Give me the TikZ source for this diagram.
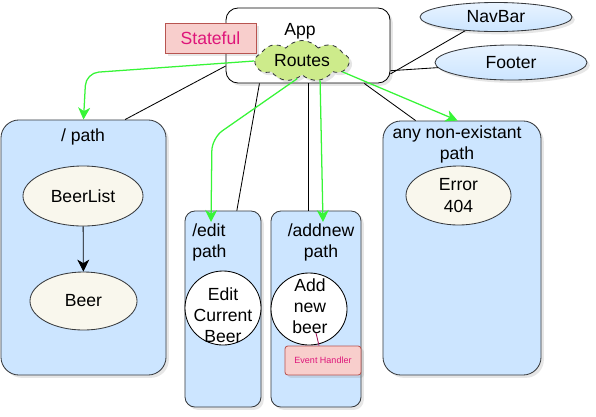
\documentclass[tikz,border=0pt]{standalone}
\usepackage{fontspec}
\setmainfont{Liberation Sans}
\usetikzlibrary{arrows.meta, positioning, shapes.geometric, shapes.symbols, shadows}
\definecolor{routeblue}{RGB}{204, 229, 255}
\definecolor{routedark}{RGB}{54, 57, 61}
\definecolor{routecream}{RGB}{249, 247, 237}
\definecolor{routelime}{RGB}{205, 235, 139}
\definecolor{routegreen}{RGB}{55, 245, 55}
\definecolor{statepink}{RGB}{248, 206, 204}
\definecolor{statered}{RGB}{184, 84, 80}
\definecolor{statetext}{RGB}{222, 22, 122}
\definecolor{pinline}{RGB}{160, 20, 90}

\begin{document}
\begin{tikzpicture}[x=0.025cm, y=-0.025cm,
        txt/.style={font=\fontsize{12.5}{15}\selectfont, align=center, inner sep=0pt},
        soft/.style={drop shadow={shadow xshift=2pt, shadow yshift=-2pt, opacity=0.2}},
        pathbox/.style={rectangle, draw=routedark, fill=routeblue, semithick, soft},
        comp/.style={ellipse, draw=routedark, fill=routecream, semithick, txt},
        circ/.style={ellipse, draw=black, fill=white, semithick},
        menu/.style={ellipse, draw=routedark, top color=routeblue!45, bottom color=routeblue, semithick, minimum width=3.8cm, soft, txt},
        note/.style={rectangle, draw=statered, fill=statepink, semithick, text=statetext, soft},
        link/.style={semithick},
        flow/.style={-{Stealth[length=8.5pt, width=8.5pt, inset=2.5pt]}, routegreen, line width=0.9pt},
        arr/.style={-{Stealth[length=8.5pt, width=8.5pt, inset=2.5pt]}, semithick}
    ]
        \useasboundingbox (0,0) rectangle (596,416);

        % App
        \node[rectangle, draw=black, fill=white, semithick, rounded corners=0.3cm, soft, minimum width=4.1cm, minimum height=1.875cm] (app) at (308,45.5) {};
        \node[txt] (apptitle) at (300,31) {App};
        \node[note, txt, minimum width=2.275cm, minimum height=0.75cm] (stateful) at (210.5,38) {Stateful};
        \node[cloud, cloud puffs=9, cloud puff arc=100, aspect=2.6, draw=routedark, dashed, fill=routelime, semithick, soft, inner sep=0pt, minimum width=2.35cm, minimum height=0.95cm, txt] (routes) at (302,61) {Routes};

        % NavBar, Footer
        \node[menu, minimum height=0.725cm] (navbar) at (496,17) {NavBar};
        \node[menu, minimum height=0.875cm] (footer) at (511,62.5) {Footer};

        % / path
        \node[pathbox, rounded corners=0.45cm, minimum width=4.125cm, minimum height=6.375cm] (root) at (83.5,247.5) {};
        \node[txt] (roottitle) at (83,137) {/ path};
        \node[comp, minimum width=3cm, minimum height=1.5cm] (beerlist) at (83,196) {BeerList};
        \node[comp, minimum width=2.675cm, minimum height=1.45cm] (beer) at (83.5,301) {Beer};
        \draw[arr] (beerlist) -- (beer);

        % /edit path
        \node[pathbox, rounded corners=0.25cm, minimum width=1.9cm, minimum height=4.9cm] (edit) at (223,309) {};
        \node[txt, align=left, anchor=west] (edittitle) at (192,242) {/edit\\path};
        \node[circ, minimum width=1.9cm, minimum height=1.85cm] (editbeer) at (223,308) {};
        \node[txt] (editlabel) at (223,315) {Edit\\Current\\Beer};

        % /addnew path
        \node[pathbox, rounded corners=0.25cm, minimum width=2.25cm, minimum height=4.9cm] (addnew) at (316,309) {};
        \node[txt] (addtitle) at (321,242) {/addnew\\path};
        \node[circ, minimum width=1.9cm, minimum height=1.8cm] (addbeer) at (309,309) {};
        \node[txt] (addlabel) at (310,306) {Add\\new\\beer};
        \node[note, font=\fontsize{6.4}{8}\selectfont, rounded corners=2pt, minimum width=1.9cm, minimum height=0.725cm] (handler) at (323,360.5) {Event Handler};
        \coordinate (handlerpin) at (316,333);
        \draw[pinline, semithick] (handlerpin) -- (handler.105);

        % any non-existant path
        \node[pathbox, rounded corners=0.45cm, minimum width=3.95cm, minimum height=6.35cm] (notfound) at (462,248) {};
        \node[txt] (notfoundtitle) at (457,144.5) {any non-existant\\path};
        \node[comp, minimum width=2.625cm, minimum height=1.475cm] (error) at (458.5,195.5) {Error\\404};

        % tree links
        \draw[link] (app.194) -- (root.72);
        \draw[link] (app.218) -- (edit.82);
        \draw[link] (app.south) -- (app.south |- addnew.north);
        \draw[link] (app.-34) -- (notfound.110);
        \draw[link] (app.-19) -- (navbar.204);
        \draw[link] (app.-17) -- (footer.184);

        % routing
        \coordinate (rootbend) at (86,73);
        \coordinate (editbend) at (212,138);
        \coordinate (edittip) at (211,222);
        \coordinate (addtip) at (323,222);
        \draw[flow, rounded corners=9pt] (routes.180) -- (rootbend) -- (root.north);
        \draw[flow, rounded corners=9pt] (routes.255) -- (editbend) -- (edittip);
        \draw[flow] (routes.-47) -- (addtip);
        \draw[flow] (routes.-15) -- (notfound.92);
    \end{tikzpicture}
\end{document}
